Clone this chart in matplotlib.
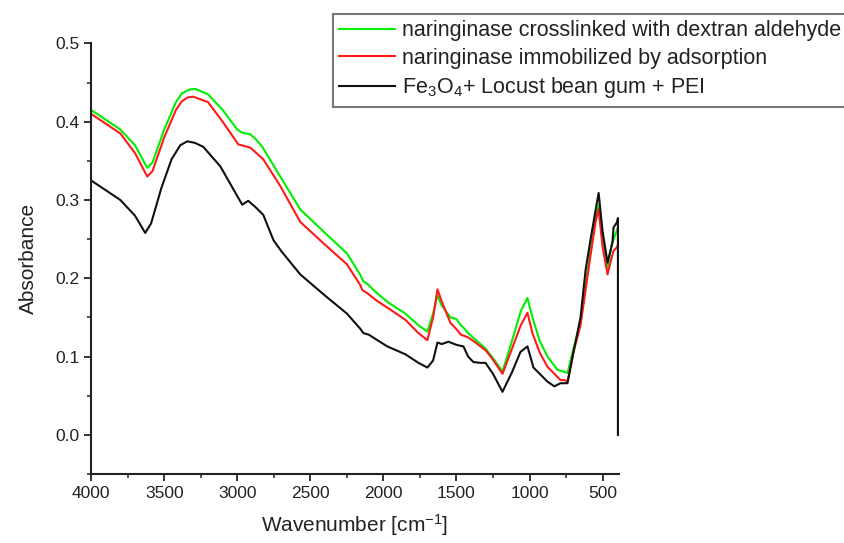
import matplotlib
matplotlib.use("Agg")
import matplotlib.pyplot as plt
from matplotlib.ticker import MultipleLocator

plt.rcParams["font.family"] = ["Liberation Sans", "DejaVu Sans"]
plt.rcParams["mathtext.default"] = "regular"

# green: crosslinked with dextran aldehyde
wn_green = [4000, 3800, 3700, 3616, 3580, 3500, 3420, 3380, 3330, 3288, 3200, 3100, 3000, 2966, 2911, 2870, 2829,
            2706, 2569, 2400, 2250, 2160, 2137, 2110, 2050, 1973, 1950, 1850, 1760, 1699, 1660, 1630,
            1600, 1541, 1500, 1470, 1452, 1420, 1384, 1300, 1250, 1185, 1120, 1060, 1014, 980, 930,
            877, 808, 770, 740, 700, 651, 582, 545, 527, 500, 466, 440, 425, 400, 395]
abs_green = [0.415, 0.39, 0.37, 0.341, 0.348, 0.39, 0.425, 0.436, 0.441, 0.442, 0.435, 0.415, 0.39, 0.386, 0.384, 0.377, 0.368,
             0.330, 0.288, 0.258, 0.232, 0.205, 0.196, 0.193, 0.182, 0.170, 0.167, 0.155, 0.14, 0.132, 0.155, 0.178,
             0.165, 0.150, 0.148, 0.14, 0.137, 0.13, 0.124, 0.11, 0.098, 0.081, 0.12, 0.158, 0.175, 0.15, 0.12,
             0.100, 0.083, 0.081, 0.079, 0.11, 0.143, 0.237, 0.28, 0.294, 0.25, 0.214, 0.24, 0.25, 0.262, 0.265]

# red: immobilized by adsorption
wn_red = [4000, 3800, 3700, 3616, 3580, 3500, 3420, 3380, 3340, 3301, 3200, 3100, 3000, 2993, 2911, 2822,
          2706, 2569, 2400, 2250, 2160, 2144, 2110, 2050, 1952, 1850, 1760, 1699, 1660, 1630,
          1600, 1541, 1500, 1470, 1425, 1384, 1300, 1250, 1185, 1120, 1060, 1014, 980, 930,
          877, 788, 760, 740, 700, 651, 582, 545, 527, 500, 466, 440, 425, 400, 395]
abs_red = [0.41, 0.385, 0.36, 0.330, 0.337, 0.38, 0.415, 0.426, 0.431, 0.432, 0.425, 0.4, 0.373, 0.371, 0.367, 0.352,
           0.318, 0.272, 0.243, 0.218, 0.192, 0.185, 0.181, 0.172, 0.160, 0.147, 0.13, 0.121, 0.15, 0.186,
           0.17, 0.143, 0.135, 0.128, 0.125, 0.12, 0.108, 0.096, 0.078, 0.11, 0.14, 0.156, 0.13, 0.105,
           0.087, 0.070, 0.070, 0.068, 0.105, 0.14, 0.23, 0.275, 0.288, 0.24, 0.205, 0.225, 0.235, 0.24, 0.243]

# black: Fe3O4 + locust bean gum + PEI
wn_black = [4000, 3800, 3700, 3630, 3590, 3520, 3450, 3390, 3342, 3290, 3233, 3116, 3000, 2966, 2925, 2870, 2822,
            2753, 2700, 2569, 2400, 2250, 2160, 2137, 2100, 2050, 1973, 1850, 1760, 1699, 1660,
            1630, 1600, 1555, 1500, 1452, 1420, 1384, 1336, 1301, 1250, 1185, 1120, 1062, 1014,
            973, 930, 877, 830, 788, 740, 700, 651, 616, 582, 545, 527, 500, 466, 440, 432, 425, 400, 395,
            395]
abs_black = [0.325, 0.3, 0.28, 0.258, 0.27, 0.315, 0.352, 0.37, 0.375, 0.373, 0.368, 0.343, 0.305, 0.294, 0.299, 0.29, 0.281,
             0.249, 0.235, 0.205, 0.178, 0.155, 0.136, 0.130, 0.128, 0.122, 0.113, 0.103, 0.092, 0.086, 0.095,
             0.118, 0.116, 0.119, 0.115, 0.113, 0.1, 0.093, 0.092, 0.092, 0.078, 0.055, 0.08, 0.106, 0.113,
             0.086, 0.078, 0.068, 0.062, 0.066, 0.066, 0.105, 0.15, 0.211, 0.25, 0.29, 0.309, 0.26, 0.22, 0.24,
             0.247, 0.265, 0.272, 0.277,
             0.0]

labels = [
    "naringinase crosslinked with dextran aldehyde",
    "naringinase immobilized by adsorption",
    "Fe$_3$O$_4$+ Locust bean gum + PEI",
]


def main() -> None:
    fig = plt.figure(figsize=(8.44, 5.43), dpi=100)
    ax = fig.add_axes([0.108, 0.127, 0.625, 0.793])

    ax.plot(wn_green, abs_green, color="#00ee00", linewidth=1.5, label=labels[0])
    ax.plot(wn_red, abs_red, color="#ff1a1a", linewidth=1.5, label=labels[1])
    ax.plot(wn_black, abs_black, color="#111111", linewidth=1.5, label=labels[2])

    ax.set_xlim(4000, 390)
    ax.set_ylim(-0.05, 0.5)
    ax.xaxis.set_major_locator(MultipleLocator(500))
    ax.xaxis.set_minor_locator(MultipleLocator(250))
    ax.yaxis.set_major_locator(MultipleLocator(0.1))
    ax.yaxis.set_minor_locator(MultipleLocator(0.05))
    ax.yaxis.set_major_formatter(plt.FuncFormatter(lambda v, p: f"{v:.1f}"))

    for side in ("top", "right"):
        ax.spines[side].set_visible(False)
    for side in ("left", "bottom"):
        ax.spines[side].set_linewidth(1.5)
        ax.spines[side].set_color("#222222")
    ax.tick_params(which="major", direction="out", length=5, width=1.3, labelsize=12.5, colors="#222222")
    ax.tick_params(which="minor", direction="out", length=3, width=1.1, colors="#222222")

    ax.set_xlabel("Wavenumber [cm$^{-1}$]", fontsize=15, color="#222222", labelpad=8)
    ax.set_ylabel("Absorbance", fontsize=15, color="#222222", labelpad=12)

    leg = fig.legend(loc="upper left", bbox_to_anchor=(333 / 844, 1 - 14 / 543),
                     fontsize=15.5, frameon=True, fancybox=False, handlelength=2.6,
                     handletextpad=0.3, borderpad=0.3, labelspacing=0.3, borderaxespad=0)
    leg.get_frame().set_edgecolor("#555555")
    leg.get_frame().set_linewidth(1.5)
    for text in leg.get_texts():
        text.set_color("#222222")

    fig.savefig("out.png", dpi=100)
    plt.close(fig)


if __name__ == "__main__":
    main()
